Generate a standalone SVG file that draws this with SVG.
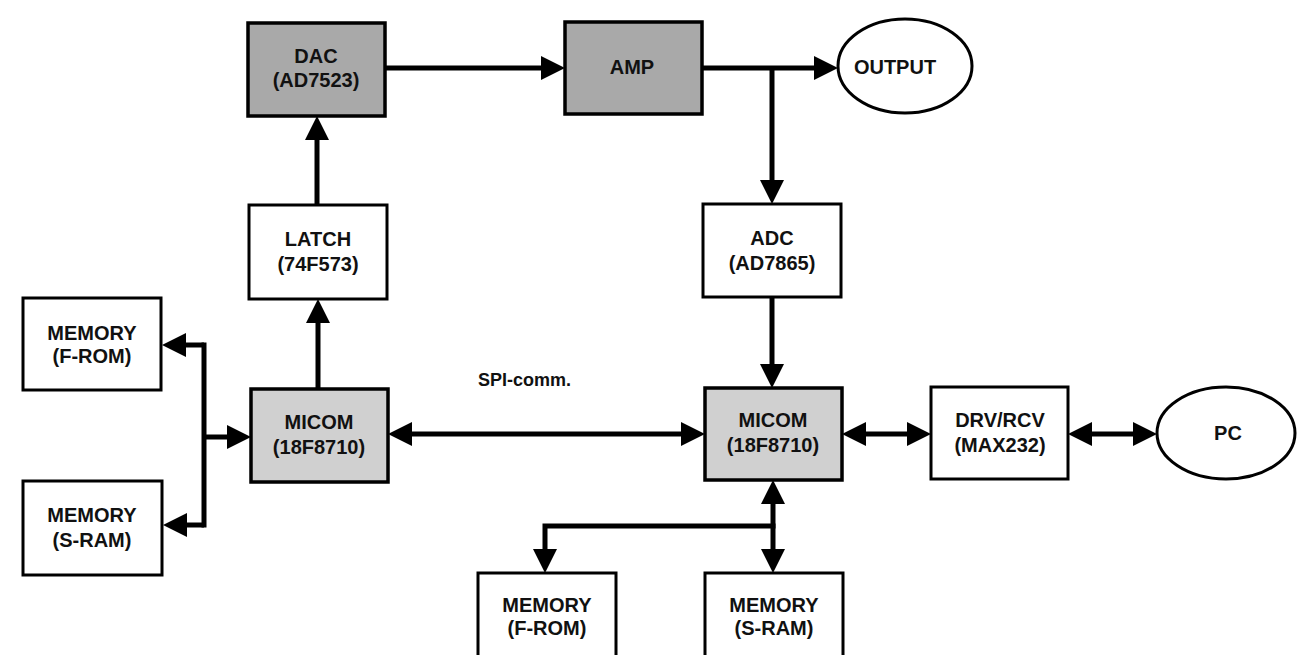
<svg xmlns="http://www.w3.org/2000/svg" width="1302" height="655" viewBox="0 0 1302 655">
<style>
.box{fill:#fff;stroke:#000;stroke-width:3}
.dark{fill:#a9a9a9;stroke:#000;stroke-width:3.5}
.light{fill:#d0d0d0;stroke:#000;stroke-width:3.5}
.ell{fill:#fff;stroke:#000;stroke-width:3}
text{font-family:"Liberation Sans",Arial,sans-serif;font-weight:bold;font-size:20px;text-anchor:middle;fill:#111}
.c{fill:none;stroke:#000;stroke-width:5}
.a{marker-end:url(#ah)}
.b{marker-start:url(#ah);marker-end:url(#ah)}
</style>
<defs>
<marker id="ah" markerUnits="userSpaceOnUse" markerWidth="24" markerHeight="24" viewBox="0 0 24 24" refX="13" refY="12" orient="auto-start-reverse">
<path d="M0,0 L24,12 L0,24 z" fill="#000"/>
</marker>
</defs>
<rect width="1302" height="655" fill="#fff"/>
<g id="connectors">
<line class="c a" x1="385" y1="68" x2="554" y2="68"/>
<line class="c a" x1="702" y1="68" x2="827" y2="68"/>
<polyline class="c a" points="772,68 772,193"/>
<line class="c a" x1="772" y1="297" x2="772" y2="377"/>
<line class="c a" x1="317" y1="205" x2="317" y2="127"/>
<line class="c a" x1="318" y1="389" x2="318" y2="310"/>
<line class="c b" x1="399" y1="434" x2="694" y2="434"/>
<line class="c b" x1="853" y1="434" x2="920" y2="434"/>
<line class="c b" x1="1079" y1="434" x2="1146" y2="434"/>
<polyline class="c a" points="204,345 173,345"/>
<polyline class="c a" points="204,525 174,525"/>
<polyline class="c" points="204,342.5 204,527.5"/>
<line class="c a" x1="204" y1="437" x2="240" y2="437"/>
<line class="c a" x1="773" y1="526" x2="773" y2="491"/>
<line class="c a" x1="773" y1="526" x2="773" y2="562"/>
<polyline class="c a" points="775.5,526 545,526 545,562"/>
</g>
<g id="dac"><rect class="dark" x="248" y="23" width="137" height="93"/><text x="316" y="63">DAC</text><text x="316" y="87">(AD7523)</text></g>
<g id="amp"><rect class="dark" x="565" y="22" width="137" height="92"/><text x="632" y="74">AMP</text></g>
<g id="output"><ellipse class="ell" cx="905" cy="66" rx="67" ry="47"/><text x="895" y="74">OUTPUT</text></g>
<g id="latch"><rect class="box" x="249" y="205" width="138" height="94"/><text x="318" y="246">LATCH</text><text x="318" y="271">(74F573)</text></g>
<g id="adc"><rect class="box" x="703" y="204" width="138" height="93"/><text x="772" y="245">ADC</text><text x="772" y="270">(AD7865)</text></g>
<g id="mem-from-left"><rect class="box" x="23" y="298" width="138" height="92"/><text x="92" y="340">MEMORY</text><text x="92" y="363">(F-ROM)</text></g>
<g id="mem-sram-left"><rect class="box" x="23" y="481" width="139" height="94"/><text x="92" y="522">MEMORY</text><text x="92" y="547">(S-RAM)</text></g>
<g id="micom-left"><rect class="light" x="251" y="389" width="137" height="93"/><text x="319" y="429">MICOM</text><text x="319" y="454">(18F8710)</text></g>
<g id="micom-right"><rect class="light" x="705" y="388" width="137" height="92"/><text x="773" y="427">MICOM</text><text x="773" y="452">(18F8710)</text></g>
<g id="drv"><rect class="box" x="931" y="387" width="137" height="92"/><text x="1000" y="427">DRV/RCV</text><text x="1000" y="452">(MAX232)</text></g>
<g id="pc"><ellipse class="ell" cx="1226" cy="433" rx="69" ry="46"/><text x="1228" y="440">PC</text></g>
<g id="mem-from-bottom"><rect class="box" x="478" y="573" width="138" height="100"/><text x="547" y="612">MEMORY</text><text x="547" y="635">(F-ROM)</text></g>
<g id="mem-sram-bottom"><rect class="box" x="705" y="573" width="138" height="100"/><text x="774" y="612">MEMORY</text><text x="774" y="635">(S-RAM)</text></g>
<g id="spi-label"><text x="478" y="386" style="text-anchor:start;font-size:18px">SPI-comm.</text></g>
</svg>
